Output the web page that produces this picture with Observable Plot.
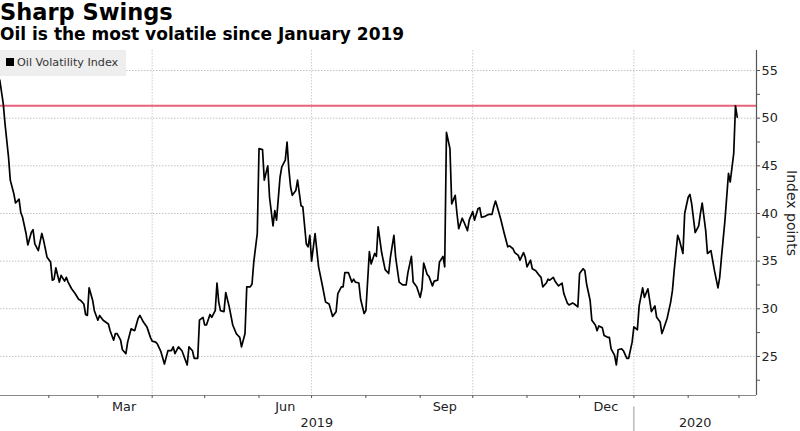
<!DOCTYPE html>
<html>
<head>
<meta charset="utf-8">
<script src="https://cdn.jsdelivr.net/npm/d3@7"></script>
<script src="https://cdn.jsdelivr.net/npm/@observablehq/plot@0.6"></script>
<style>
  body { margin: 0; background: #fff; }
  #wrap { position: relative; width: 800px; height: 431px; overflow: hidden; font-family: "DejaVu Sans", sans-serif; background: #fff; }
  #title { position: absolute; left: 0; top: 1px; font-size: 22.5px; line-height: 22.5px; font-weight: bold; color: #000; white-space: nowrap; }
  #subtitle { position: absolute; left: 0; top: 25.5px; font-size: 17px; line-height: 17px; font-weight: bold; color: #000; white-space: nowrap; }
  #chart { position: absolute; left: 0; top: 46px; }
  #legend { position: absolute; left: 0; top: 50px; width: 126px; height: 26px; background: #eeeeee; font-size: 11.2px; color: #333; z-index: 2; }
  #legend .sw { position: absolute; left: 6px; top: 8px; width: 8px; height: 8px; background: #000; }
  #legend .lab { position: absolute; left: 17px; top: 6px; line-height: 13px; white-space: nowrap; }
</style>
</head>
<body>
<div id="wrap">
  <div id="title">Sharp Swings</div>
  <div id="subtitle">Oil is the most volatile since January 2019</div>
  <div id="chart"></div>
  <div id="legend"><span class="sw"></span><span class="lab">Oil Volatility Index</span></div>
</div>
<script>
// ---- data ----
const dates = [
  "2019-01-04","2019-01-06","2019-01-07","2019-01-09","2019-01-10","2019-01-12","2019-01-13","2019-01-14","2019-01-15","2019-01-16",
  "2019-01-17","2019-01-19","2019-01-20","2019-01-22","2019-01-23","2019-01-24","2019-01-26","2019-01-28","2019-01-29","2019-01-31",
  "2019-02-02","2019-02-03","2019-02-04","2019-02-05","2019-02-07","2019-02-08","2019-02-10","2019-02-11","2019-02-12","2019-02-14",
  "2019-02-16","2019-02-18","2019-02-19","2019-02-21","2019-02-22","2019-02-23","2019-02-24","2019-02-26","2019-02-27","2019-03-01",
  "2019-03-02","2019-03-04","2019-03-07","2019-03-08","2019-03-10","2019-03-11","2019-03-12","2019-03-14","2019-03-15","2019-03-17",
  "2019-03-18","2019-03-20","2019-03-22","2019-03-24","2019-03-25","2019-03-27","2019-03-29","2019-03-31","2019-04-01","2019-04-03",
  "2019-04-04","2019-04-06","2019-04-08","2019-04-09","2019-04-10","2019-04-12","2019-04-13","2019-04-14","2019-04-16","2019-04-18",
  "2019-04-19","2019-04-21","2019-04-22","2019-04-24","2019-04-25","2019-04-27","2019-04-28","2019-04-30","2019-05-01","2019-05-02",
  "2019-05-04","2019-05-05","2019-05-07","2019-05-08","2019-05-09","2019-05-10","2019-05-12","2019-05-13","2019-05-15","2019-05-17",
  "2019-05-19","2019-05-20","2019-05-21","2019-05-22","2019-05-24","2019-05-25","2019-05-27","2019-05-28","2019-05-29","2019-05-31",
  "2019-06-01","2019-06-03","2019-06-04","2019-06-06","2019-06-07","2019-06-09","2019-06-10","2019-06-11","2019-06-13","2019-06-14",
  "2019-06-16","2019-06-17","2019-06-18","2019-06-19","2019-06-20","2019-06-22","2019-06-23","2019-06-25","2019-06-26","2019-06-28",
  "2019-06-29","2019-06-30","2019-07-01","2019-07-03","2019-07-05","2019-07-07","2019-07-09","2019-07-11","2019-07-13","2019-07-15",
  "2019-07-16","2019-07-18","2019-07-19","2019-07-20","2019-07-22","2019-07-24","2019-07-25","2019-07-26","2019-07-28","2019-07-29",
  "2019-07-31","2019-08-01","2019-08-03","2019-08-04","2019-08-06","2019-08-07","2019-08-08","2019-08-10","2019-08-12","2019-08-14",
  "2019-08-15","2019-08-17","2019-08-18","2019-08-20","2019-08-22","2019-08-24","2019-08-25","2019-08-27","2019-08-28","2019-08-30",
  "2019-09-01","2019-09-02","2019-09-03","2019-09-05","2019-09-06","2019-09-08","2019-09-09","2019-09-11","2019-09-12","2019-09-14",
  "2019-09-15","2019-09-16","2019-09-18","2019-09-19","2019-09-21","2019-09-22","2019-09-23","2019-09-25","2019-09-26","2019-09-28",
  "2019-09-29","2019-10-01","2019-10-02","2019-10-04","2019-10-05","2019-10-06","2019-10-08","2019-10-10","2019-10-12","2019-10-13",
  "2019-10-14","2019-10-15","2019-10-17","2019-10-19","2019-10-21","2019-10-22","2019-10-24","2019-10-25","2019-10-27","2019-10-28",
  "2019-10-30","2019-10-31","2019-11-01","2019-11-03","2019-11-04","2019-11-06","2019-11-08","2019-11-09","2019-11-10","2019-11-12",
  "2019-11-13","2019-11-14","2019-11-16","2019-11-17","2019-11-19","2019-11-21","2019-11-22","2019-11-24","2019-11-25","2019-11-27",
  "2019-11-28","2019-11-30","2019-12-01","2019-12-03","2019-12-04","2019-12-05","2019-12-07","2019-12-08","2019-12-10","2019-12-11",
  "2019-12-12","2019-12-14","2019-12-15","2019-12-17","2019-12-18","2019-12-19","2019-12-21","2019-12-22","2019-12-23","2019-12-25",
  "2019-12-26","2019-12-28","2019-12-29","2019-12-31","2020-01-01","2020-01-03","2020-01-04","2020-01-06","2020-01-07","2020-01-09",
  "2020-01-10","2020-01-11","2020-01-13","2020-01-14","2020-01-16","2020-01-17","2020-01-18","2020-01-20","2020-01-22","2020-01-23",
  "2020-01-24","2020-01-26","2020-01-27","2020-01-29","2020-01-30","2020-02-01","2020-02-02","2020-02-03","2020-02-05","2020-02-07",
  "2020-02-08","2020-02-09","2020-02-11","2020-02-12","2020-02-14","2020-02-16","2020-02-18","2020-02-19","2020-02-20","2020-02-22",
  "2020-02-24","2020-02-25","2020-02-27","2020-02-28","2020-02-29"
];
const values = [
  54.0,51.5,49.4,45.9,43.5,42.1,41.1,41.3,41.5,40.1,
  39.6,37.9,36.7,38.0,38.3,36.8,36.1,37.9,37.2,35.4,
  34.9,33.0,33.1,34.3,32.8,33.5,32.9,33.3,32.8,32.1,
  31.6,31.0,30.9,30.5,29.4,29.3,32.2,30.9,29.8,28.8,
  29.3,28.8,28.4,27.7,26.7,27.4,27.4,26.7,25.7,25.3,
  26.5,27.9,27.7,29.0,29.3,28.6,28.1,27.0,26.6,26.5,
  26.3,25.5,24.2,24.9,25.6,25.6,26.0,25.3,26.0,25.6,
  25.1,24.1,26.0,25.6,24.8,24.8,28.8,29.1,28.3,28.3,
  29.4,29.1,29.8,32.7,30.7,29.8,29.7,31.7,30.2,28.3,
  27.4,27.2,27.0,26.0,27.4,32.3,32.3,32.6,34.9,37.9,
  46.8,46.7,43.5,45.0,41.7,38.7,40.3,39.3,43.8,44.9,
  45.6,47.5,44.7,42.8,41.9,42.4,43.5,40.8,40.7,36.8,
  36.5,37.7,35.0,37.9,34.4,32.6,30.7,30.5,29.2,29.7,
  31.6,32.3,32.3,33.8,33.8,32.8,33.1,32.8,32.7,31.0,
  29.5,29.8,36.0,34.7,35.8,35.5,38.6,35.9,34.1,33.7,
  35.4,37.7,35.4,32.8,32.5,32.5,33.8,35.5,32.8,32.3,
  31.2,32.1,34.8,33.6,33.4,32.4,32.9,33.0,34.9,35.5,
  34.4,48.5,46.8,41.0,41.9,40.0,38.4,39.5,39.1,38.2,
  39.3,40.2,39.3,40.5,40.6,39.6,39.7,39.9,39.9,40.7,
  41.3,40.7,39.4,37.9,36.5,36.6,36.3,35.9,35.6,35.1,
  35.9,35.4,34.4,35.1,34.2,34.0,33.5,33.3,32.3,32.7,
  33.1,33.0,33.3,32.9,32.4,32.7,31.6,30.6,30.4,30.6,
  30.5,30.2,33.7,34.2,34.0,32.6,30.9,28.8,28.3,27.7,
  28.2,28.0,27.2,27.0,27.0,25.8,25.1,24.1,25.7,25.8,
  25.6,24.8,24.8,26.5,28.1,27.8,30.3,32.2,31.2,32.1,
  30.9,29.7,30.3,29.1,28.6,27.4,27.9,29.0,30.7,31.9,
  34.0,37.7,37.2,35.8,40.0,41.7,42.0,41.0,38.0,38.7,
  40.0,41.1,38.2,35.8,36.1,34.0,32.2,33.3,35.4,39.3,
  44.2,43.3,46.3,51.3,50.1
];
const referenceLevel = [51.3];               // horizontal red marker
const yTickValues = [25, 30, 35, 40, 45, 50, 55];
const yMinorTicks = [22.5, 27.5, 32.5, 37.5, 42.5, 47.5, 52.5];
const monthTicks = ["2019-02-01","2019-03-01","2019-04-01","2019-05-01","2019-06-01","2019-07-01","2019-08-01",
                    "2019-09-01","2019-10-01","2019-11-01","2019-12-01","2020-01-01","2020-02-01","2020-03-01"];
const quarterGrid = ["2019-04-01","2019-07-01","2019-10-01","2020-01-01"];
const monthLabelDates = ["2019-03-16","2019-06-16","2019-09-15","2019-12-16"];
const yearLabelDates = ["2019-07-04","2020-02-05"];
const yearSeparator = ["2020-01-01"];
const xDomain = ["2019-01-04T10:00:00Z", "2020-03-11T00:00:00Z"];
const yDomain = [20.9, 57.1];

const parse = s => new Date(s);
const data = dates.map((d, i) => ({date: parse(d), value: values[i]}));

const chart = Plot.plot({
  width: 800,
  height: 385,
  marginLeft: 0,
  marginRight: 44,
  marginTop: 4,
  marginBottom: 36,
  style: {fontFamily: "DejaVu Sans, sans-serif", fontSize: "12.8px", color: "#222", background: "transparent", overflow: "visible"},
  x: {type: "utc", domain: xDomain.map(parse)},
  y: {domain: yDomain},
  marks: [
    Plot.gridY(yTickValues, {stroke: "#c2c2c2", strokeOpacity: 1, strokeDasharray: "1.5,1.5"}),
    Plot.gridX(quarterGrid.map(parse), {stroke: "#cccccc", strokeOpacity: 1, strokeDasharray: "1.5,1.5"}),
    Plot.ruleY(referenceLevel, {stroke: "#e8607a", strokeWidth: 2}),
    Plot.line(data, {x: "date", y: "value", stroke: "#000", strokeWidth: 1.7, strokeLinejoin: "round"}),
    Plot.ruleY([yDomain[0]], {stroke: "#8a8a8a", strokeWidth: 1.2}),
    Plot.ruleX([parse(xDomain[1])], {stroke: "#555", strokeWidth: 1.2}),
    Plot.axisY(yTickValues, {anchor: "right", tickSize: 3, tickPadding: 2, label: null, stroke: "#555", fill: "#222"}),
    Plot.axisY(yMinorTicks, {anchor: "right", tickSize: 3, tickFormat: () => "", label: null, stroke: "#555"}),
    Plot.axisX(monthTicks.map(parse), {tickSize: 3, tickFormat: () => "", label: null, stroke: "#555"}),
    Plot.axisX(monthLabelDates.map(parse), {tickSize: 0, tickPadding: 6, tickFormat: d3.utcFormat("%b"), label: null, fill: "#222"}),
    Plot.axisX(yearLabelDates.map(parse), {tickSize: 0, tickPadding: 22, tickFormat: d3.utcFormat("%Y"), label: null, fill: "#222"}),
    Plot.ruleX(yearSeparator.map(parse), {y1: 19.7, y2: 17.1, stroke: "#999", strokeWidth: 1}),
    Plot.text(["Index points"], {frameAnchor: "right", textAnchor: "middle", lineAnchor: "middle", rotate: 90, dx: 35, dy: -10, fontSize: 14, fill: "#222"})
  ]
});
document.getElementById("chart").appendChild(chart);
</script>
</body>
</html>
